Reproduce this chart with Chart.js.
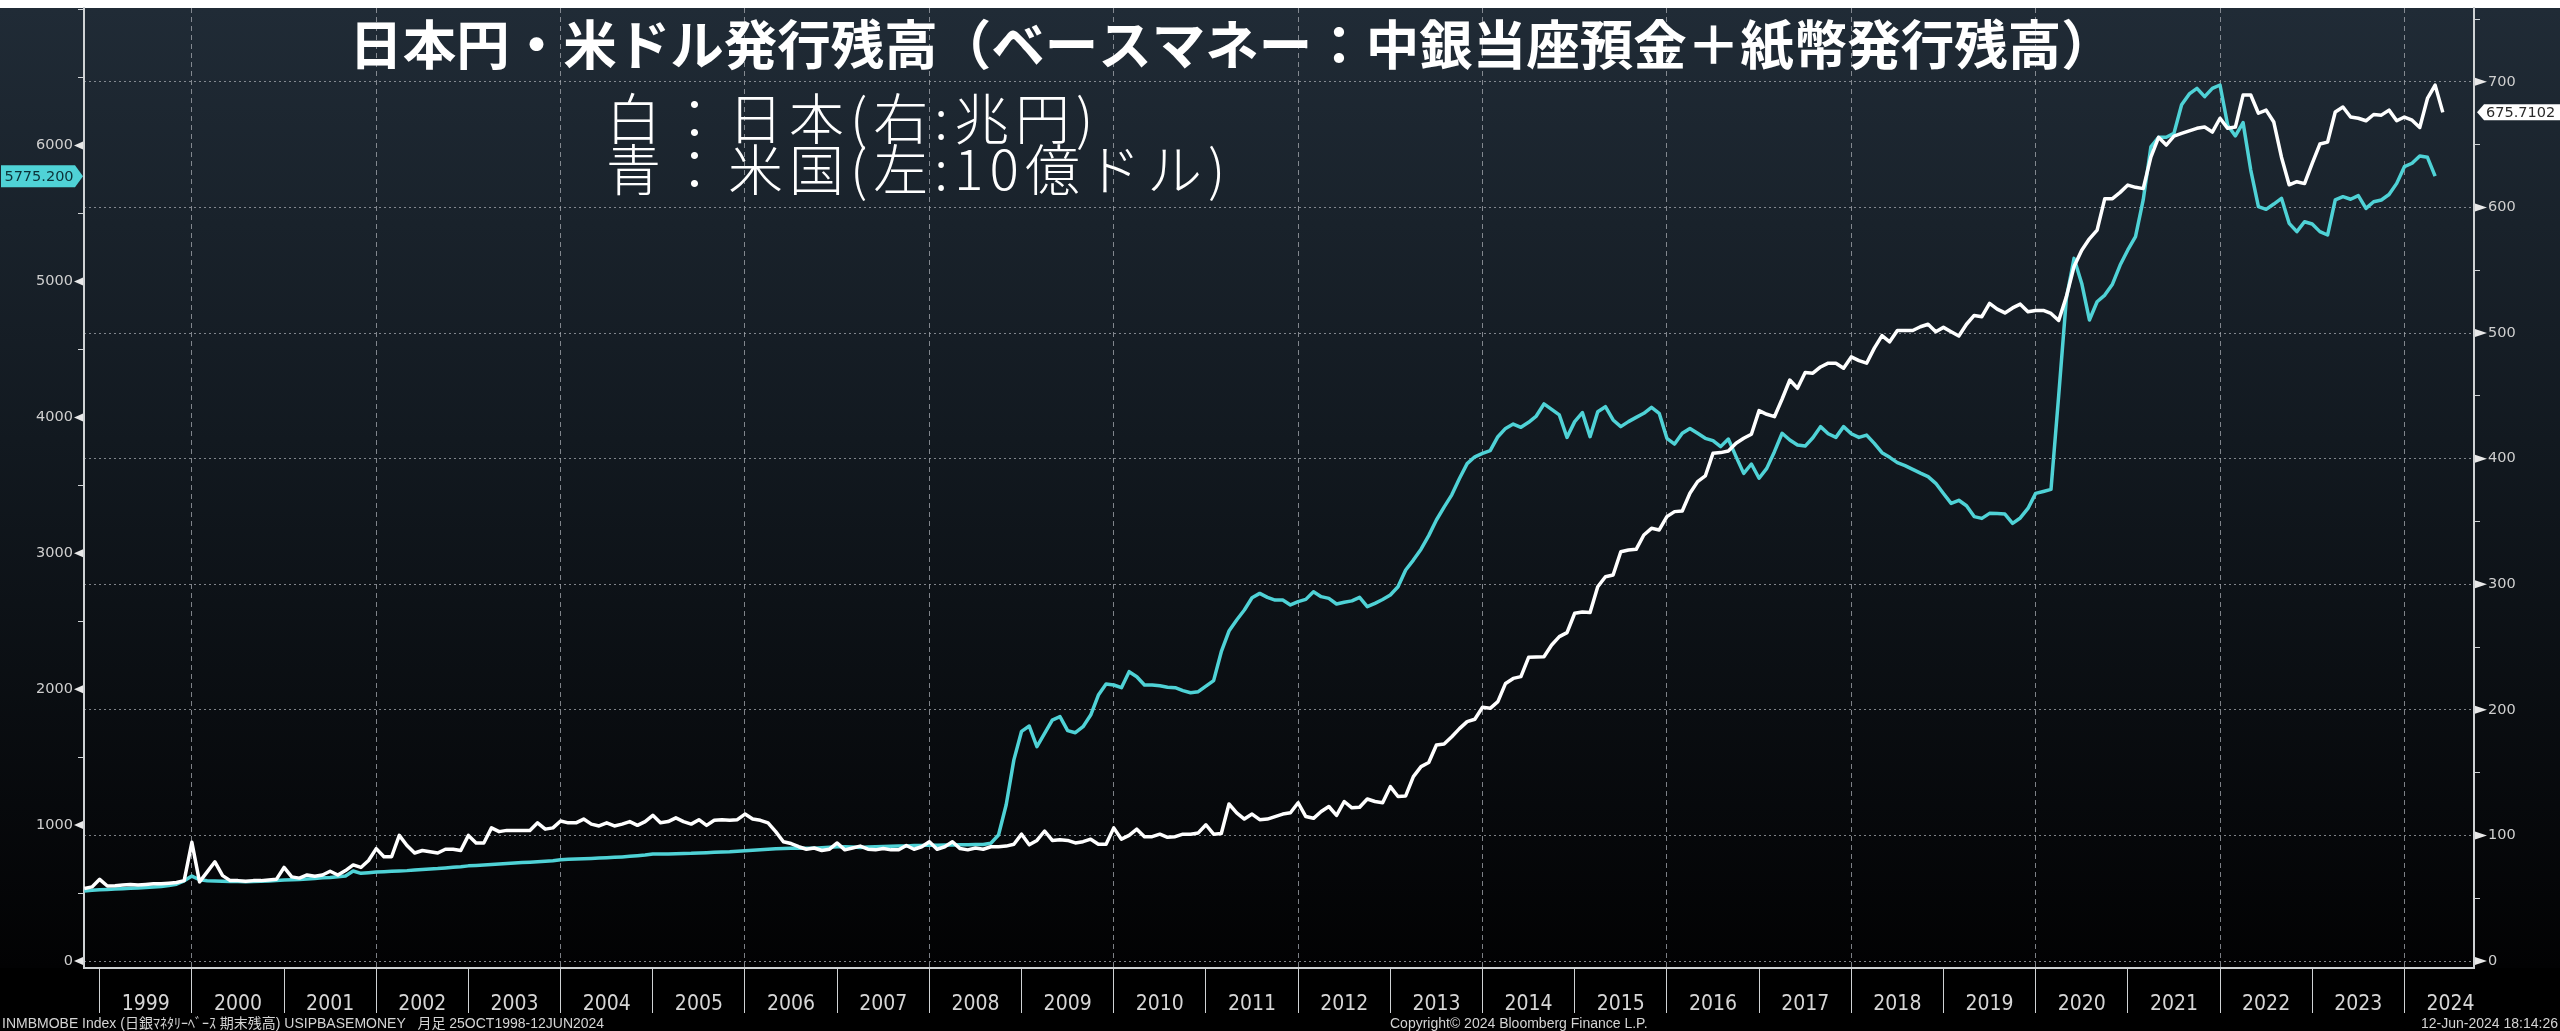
<!DOCTYPE html>
<html>
<head>
<meta charset="utf-8">
<title>日本円・米ドル発行残高</title>
<script src="https://cdn.jsdelivr.net/npm/chart.js@4.4.1/dist/chart.umd.min.js"></script>
<style>
  html, body { margin: 0; padding: 0; background: #000; overflow: hidden; }
  #wrap { width: 2560px; height: 1031px; }
</style>
</head>
<body>
<div id="wrap"><canvas id="baseChart" width="2560" height="1031"></canvas></div>
<script>
// monthly points, first one = end of Oct 1998
const START_YEAR = 1998;
const START_MONTH = 10;

// 日銀マネタリーベース 期末残高 (兆円, right axis)
const jpBase = [
  57.8, 59, 65, 59.7, 60, 60.5, 61, 60.5, 61, 61.5, 61.5, 62,
  62.5, 64, 94.5, 63, 71, 79, 68, 64, 64, 63.5, 64, 64,
  64.5, 65, 74.5, 67, 66, 68.5, 67.5, 68.5, 71.5, 68.5, 72, 76.5,
  74.5, 80, 89.5, 83, 83, 100, 92, 86, 88, 87, 86, 89,
  89, 88, 100, 94, 94, 106, 103, 104, 104, 104, 104, 110,
  105, 106, 111.5, 110, 110, 113, 109, 107.5, 110, 107.5, 109, 111,
  108, 111, 116, 110, 111, 114, 111, 109, 112.5, 108, 112, 112.5,
  112, 112.5, 117, 113, 112, 110, 103, 95, 93.5, 91, 89, 90,
  88, 89, 94, 88.5, 90, 91.5, 89, 88.5, 89.5, 88.5, 88.5, 92,
  89, 91, 95, 89, 91, 95, 89.5, 88.5, 90, 89, 91, 91,
  91.5, 93, 101, 92.5, 96, 103.5, 96, 96.5, 96, 94, 95, 97,
  93, 93, 106, 97, 100, 105, 99, 99, 101, 98.5, 99, 101,
  101, 102, 108.5, 101, 101.5, 125, 118, 113, 117, 112.5, 113, 115,
  117, 118, 126, 115, 113.6, 119, 123, 116, 127, 122, 122.4, 129,
  127, 126, 138.8, 131, 131.4, 146.8, 154.8, 158, 172, 172.8, 178.6, 185,
  190.6, 192.5, 202, 201.2, 206.5, 221, 225, 226.4, 241.8, 242, 242.3, 251.6,
  258.3, 261.5, 276.9, 277.9, 277.4, 298, 306, 307.4, 325.9, 327.3, 327.8, 339.2,
  344.5, 343.2, 353.8, 357.8, 358.3, 372.4, 381.7, 386.2, 404.2, 404.8, 406.1, 412.2,
  416.2, 419.4, 438.2, 435.3, 433.4, 447.5, 462.6, 456, 468.5, 468, 473, 476,
  476, 472, 481, 478, 476, 488, 498, 493, 502, 502, 502, 505,
  507, 501, 504.5, 501, 497.6, 507, 514, 513, 523.6, 519, 516, 520,
  523, 517, 518, 518, 515.6, 510, 529, 553, 566, 575, 582, 607,
  607, 612, 617.8, 616, 615, 640, 655.8, 649.7, 656.8, 659, 661, 663,
  664, 660, 671, 663, 664, 689.5, 689.5, 675, 677.5, 668, 640, 618,
  620.5, 619, 635, 650.5, 652, 676, 680, 672, 671, 669, 674, 673.5,
  677.5, 669, 672, 669.5, 663.7, 686.8, 697.4, 675.7102
];

// USIPBASEMONEY (10億ドル, left axis)
const usBase = [
  515, 520, 525, 527, 530, 532, 535, 538, 540, 545, 548, 555,
  565, 590, 625, 598, 590, 588, 586, 585, 585, 584, 585, 586,
  588, 592, 596, 598, 600, 603, 607, 612, 615, 620, 625, 662,
  645, 650, 655, 657, 660, 662, 665, 670, 674, 677, 680, 685,
  690, 694, 700, 703, 706, 710, 714, 718, 721, 724, 727, 730,
  734, 738, 745, 748, 750, 752, 755, 758, 760, 763, 766, 770,
  775, 780, 788, 787, 788, 790, 791, 792, 795, 797, 800, 802,
  804, 808, 812, 815, 818, 822, 826, 827, 829, 829, 829, 830,
  833, 837, 841, 840, 838, 836, 838, 840, 842, 844, 846, 847,
  849, 850, 853, 852, 853, 854, 855, 856, 857, 858, 866, 927,
  1150, 1480, 1690, 1729, 1577, 1675, 1773, 1798, 1695, 1680, 1724, 1810,
  1957, 2038, 2031, 2011, 2129, 2092, 2031, 2031, 2025, 2014, 2011, 1990,
  1974, 1982, 2023, 2063, 2276, 2428, 2509, 2583, 2673, 2705, 2676, 2656,
  2656, 2620, 2644, 2661, 2717, 2681, 2668, 2627, 2640, 2650, 2676, 2607,
  2632, 2660, 2693, 2754, 2877, 2950, 3030, 3130, 3245, 3340, 3430, 3550,
  3660, 3710, 3735, 3755, 3858, 3919, 3951, 3927, 3964, 4010, 4099, 4059,
  4018, 3853, 3969, 4035, 3858, 4042, 4079, 3981, 3932, 3969, 4000, 4030,
  4074, 4030, 3846, 3804, 3883, 3919, 3883, 3846, 3829, 3785, 3841, 3711,
  3588, 3657, 3552, 3625, 3748, 3883, 3834, 3797, 3789, 3850, 3932, 3880,
  3853, 3932, 3880, 3853, 3870, 3809, 3740, 3706, 3667, 3645, 3618, 3590,
  3564, 3515, 3440, 3367, 3390, 3350, 3270, 3257, 3294, 3292, 3289, 3220,
  3260, 3330, 3441, 3455, 3470, 4160, 4876, 5170, 4986, 4717, 4851, 4900,
  4980, 5121, 5232, 5330, 5600, 5990, 6061, 6061, 6090, 6300, 6380, 6421,
  6360, 6421, 6446, 6150, 6071, 6169, 5820, 5551, 5531, 5570, 5612, 5428,
  5367, 5440, 5423, 5367, 5342, 5600, 5624, 5605, 5632, 5538, 5587, 5600,
  5640, 5722, 5845, 5870, 5923, 5914, 5775.2
];

// axis ticks
const years = [];
for (let y = 1999; y <= 2024; y++) years.push(y);
const leftTicks = [0, 500, 1000, 1500, 2000, 2500, 3000, 3500, 4000, 4500, 5000, 5500, 6000, 6500, 7000];
const rightTicks = [0, 50, 100, 150, 200, 250, 300, 350, 400, 450, 500, 550, 600, 650, 700, 750];

const title = "日本円・米ドル発行残高（ベースマネー：中銀当座預金＋紙幣発行残高）";
const noteLines = ["白：日本(右:兆円)", "青：米国(左:10億ドル)"];
const footLeft = "INMBMOBE Index (日銀ﾏﾈﾀﾘｰﾍﾞｰｽ 期末残高) USIPBASEMONEY   月足 25OCT1998-12JUN2024";
const footMid = "Copyright© 2024 Bloomberg Finance L.P.";
const footRight = "12-Jun-2024 18:14:26";

const CYAN = "#4fd2d6";
const AXIS = "#cfd2d4";
const GRID = "rgba(165,170,176,0.75)";
const CLEAR = "rgba(0,0,0,0)";

const toPoints = (arr) => arr.map((v, i) => ({ x: START_YEAR + (START_MONTH + i) / 12, y: v }));

const xTickValues = [];
years.forEach((y) => { xTickValues.push(y, y + 0.5); });

// keep the plot box where Bloomberg puts it
const noPad = (s) => {
  s.paddingTop = 0;
  s.paddingBottom = 0;
  s.paddingLeft = 0;
  s.paddingRight = 0;
};

// background: white strip on top, dark gradient down to black
const bgPlugin = {
  id: "bg",
  beforeDraw(chart) {
    const { ctx, width, height, chartArea } = chart;
    ctx.save();
    ctx.fillStyle = "#000";
    ctx.fillRect(0, 0, width, height);
    const g = ctx.createLinearGradient(0, chartArea.top, 0, chartArea.bottom);
    g.addColorStop(0, "#202b36");
    g.addColorStop(0.45, "#121920");
    g.addColorStop(1, "#020203");
    ctx.fillStyle = g;
    ctx.fillRect(0, chartArea.top, width, chartArea.bottom - chartArea.top);
    ctx.fillStyle = "#ffffff";
    ctx.fillRect(0, 0, width, chartArea.top);
    ctx.restore();
  },
};

// little triangles on labelled ticks
const markerPlugin = {
  id: "markers",
  afterDraw(chart) {
    const { ctx, scales } = chart;
    ctx.save();
    ctx.fillStyle = "#e8e8e8";
    const l = scales.yL.left + scales.yL.width;
    leftTicks.filter((v) => v % 1000 === 0 && v < 7000).forEach((v) => {
      const y = scales.yL.getPixelForValue(v);
      ctx.beginPath();
      ctx.moveTo(l - 1, y - 4);
      ctx.lineTo(l - 1, y + 4);
      ctx.lineTo(l - 10, y);
      ctx.fill();
    });
    const r = scales.yR.left;
    rightTicks.filter((v) => v % 100 === 0).forEach((v) => {
      const y = scales.yR.getPixelForValue(v);
      ctx.beginPath();
      ctx.moveTo(r + 1, y - 4);
      ctx.lineTo(r + 1, y + 4);
      ctx.lineTo(r + 13, y);
      ctx.fill();
    });
    ctx.restore();
  },
};

// last value tags
const tagPlugin = {
  id: "tags",
  afterDraw(chart) {
    const { ctx, scales } = chart;
    ctx.save();
    ctx.font = "14.5px 'DejaVu Sans'";
    ctx.textBaseline = "middle";

    const usLast = usBase[usBase.length - 1];
    let y = scales.yL.getPixelForValue(usLast);
    ctx.fillStyle = CYAN;
    ctx.beginPath();
    ctx.moveTo(1, y - 11);
    ctx.lineTo(75, y - 11);
    ctx.lineTo(83, y);
    ctx.lineTo(75, y + 11);
    ctx.lineTo(1, y + 11);
    ctx.closePath();
    ctx.fill();
    ctx.fillStyle = "#0c3238";
    ctx.textAlign = "center";
    ctx.fillText(usLast.toFixed(3), 39, y + 1);

    const jpLast = jpBase[jpBase.length - 1];
    y = scales.yR.getPixelForValue(jpLast);
    ctx.fillStyle = "#ffffff";
    ctx.beginPath();
    ctx.moveTo(2477, y);
    ctx.lineTo(2484, y - 8);
    ctx.lineTo(2560, y - 8);
    ctx.lineTo(2560, y + 8);
    ctx.lineTo(2484, y + 8);
    ctx.closePath();
    ctx.fill();
    ctx.fillStyle = "#2a2a2a";
    ctx.textAlign = "left";
    ctx.fillText(String(jpLast), 2486, y + 1);
    ctx.restore();
  },
};

// title, notes, footer
const textPlugin = {
  id: "texts",
  afterDraw(chart) {
    const { ctx } = chart;
    ctx.save();
    ctx.fillStyle = "#ffffff";
    ctx.textBaseline = "middle";
    ctx.textAlign = "center";
    ctx.font = "bold 53.5px 'Noto Sans CJK JP'";
    ctx.fillText(title, 1232, 45);

    ctx.textAlign = "left";
    ctx.font = "300 55px 'Noto Sans CJK JP'";
    if ("letterSpacing" in ctx) ctx.letterSpacing = "6px";
    ctx.fillText(noteLines[0], 606, 118);
    ctx.fillText(noteLines[1], 606, 169);
    if ("letterSpacing" in ctx) ctx.letterSpacing = "0px";

    ctx.fillStyle = "#d4d4d4";
    ctx.font = "14px 'Liberation Sans Narrow', 'Liberation Sans', 'Noto Sans CJK JP'";
    ctx.fillText(footLeft, 2, 1024, 648);
    ctx.fillText(footMid, 1390, 1024, 282);
    ctx.textAlign = "right";
    ctx.fillText(footRight, 2558, 1024, 145);
    ctx.restore();
  },
};

const ctx = document.getElementById("baseChart").getContext("2d");

const baseChart = new Chart(ctx, {
  type: "line",
  data: {
    datasets: [
      {
        label: "日本",
        data: toPoints(jpBase),
        yAxisID: "yR",
        borderColor: "#ffffff",
        borderWidth: 3.5,
        pointRadius: 0,
        tension: 0,
        borderJoinStyle: "round",
      },
      {
        label: "米国",
        data: toPoints(usBase),
        yAxisID: "yL",
        borderColor: CYAN,
        borderWidth: 3.5,
        pointRadius: 0,
        tension: 0,
        borderJoinStyle: "round",
      },
    ],
  },
  options: {
    responsive: false,
    devicePixelRatio: 1,
    animation: false,
    layout: { padding: { top: 8, left: 0, right: 0, bottom: 0 } },
    plugins: {
      legend: { display: false },
      tooltip: { enabled: false },
    },
    scales: {
      x: {
        type: "linear",
        min: 1998.83,
        max: 2024.755,
        afterBuildTicks: (s) => { s.ticks = xTickValues.map((v) => ({ value: v })); },
        afterFit: (s) => { s.height = 63; noPad(s); },
        ticks: {
          autoSkip: false,
          maxRotation: 0,
          padding: -21,
          color: "#d6d6d6",
          font: { family: "'Liberation Sans Narrow', 'DejaVu Sans Condensed', 'Liberation Sans'", size: 21 },
          callback: (v) => (Number.isInteger(v) ? "" : String(Math.floor(v))),
        },
        grid: {
          color: (c) => (c.tick && Number.isInteger(c.tick.value) && c.tick.value % 2 === 0 ? GRID : CLEAR),
          lineWidth: 1,
          tickColor: (c) => (c.tick && Number.isInteger(c.tick.value) ? AXIS : CLEAR),
          tickLength: 45,
          tickWidth: 1,
        },
        border: { display: true, color: AXIS, width: 2, dash: [5, 4] },
      },
      yL: {
        position: "left",
        min: -51.5,
        max: 7012.5,
        afterBuildTicks: (s) => { s.ticks = leftTicks.map((v) => ({ value: v })); },
        afterFit: (s) => { s.width = 84; noPad(s); },
        ticks: {
          padding: 5,
          color: "#cfcfcf",
          font: { family: "'DejaVu Sans'", size: 14.5 },
          callback: (v) => (v % 1000 === 0 && v < 7000 ? String(v) : ""),
        },
        grid: {
          drawOnChartArea: false,
          tickLength: 6,
          tickColor: (c) => (c.tick && c.tick.value % 1000 === 0 && c.tick.value < 7000 ? CLEAR : AXIS),
        },
        border: { display: true, color: AXIS, width: 2 },
      },
      yR: {
        position: "right",
        min: -5.57,
        max: 758.8,
        afterBuildTicks: (s) => { s.ticks = rightTicks.map((v) => ({ value: v })); },
        afterFit: (s) => { s.width = 86; noPad(s); },
        ticks: {
          padding: 8,
          color: "#cfcfcf",
          font: { family: "'DejaVu Sans'", size: 14.5 },
          callback: (v) => (v % 100 === 0 ? String(v) : ""),
        },
        grid: {
          color: (c) => (c.tick && c.tick.value % 100 === 0 ? GRID : CLEAR),
          lineWidth: 1,
          tickLength: 6,
          tickColor: (c) => (c.tick && c.tick.value % 100 === 0 ? CLEAR : AXIS),
        },
        border: { display: true, color: AXIS, width: 2, dash: [2, 3] },
      },
    },
  },
  plugins: [bgPlugin, markerPlugin, tagPlugin, textPlugin],
});
</script>
</body>
</html>
